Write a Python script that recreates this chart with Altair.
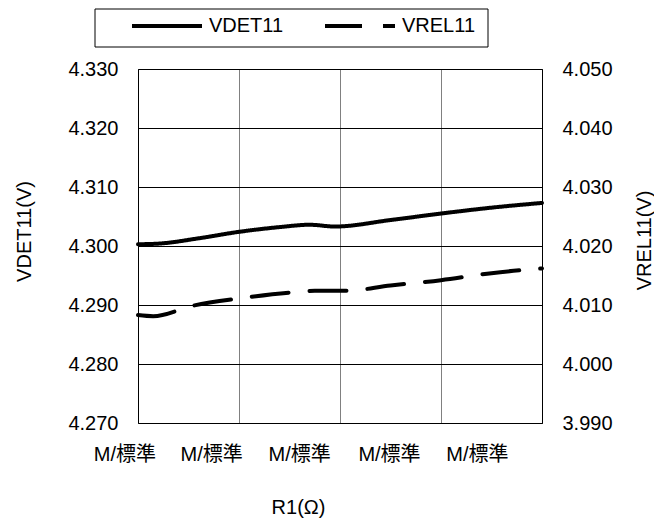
import altair as alt
import pandas as pd

# data
vdet_x = [0, 0.2, 0.6, 1.0, 1.4, 1.7, 1.95, 2.5, 3.0, 3.5, 4.0]
vdet_v = [4.3003, 4.3004, 4.3013, 4.3024, 4.3032, 4.3036, 4.3033, 4.3044, 4.3055, 4.3065, 4.3073]
vrel_x = [0, 0.15, 0.55, 1.0, 1.5, 1.75, 2.05, 2.5, 3.0, 3.5, 4.0]
vrel_v = [4.0083, 4.0081, 4.0099, 4.0111, 4.0121, 4.0124, 4.0124, 4.0133, 4.0142, 4.0154, 4.0162]
xlab_pos = [-0.13, 0.73, 1.6, 2.49, 3.36]
xlab_text = ["M/標準"] * 5
left_ticks = [4.27, 4.28, 4.29, 4.30, 4.31, 4.32, 4.33]
right_ticks = [3.99, 4.00, 4.01, 4.02, 4.03, 4.04, 4.05]
series = ["VDET11", "VREL11"]

FONT = "Liberation Sans, Noto Sans CJK JP, sans-serif"
FS = 20

df_det = pd.DataFrame({"x": vdet_x, "v": vdet_v, "s": series[0]})
df_rel = pd.DataFrame({"x": vrel_x, "v": vrel_v, "s": series[1]})
df_lab = pd.DataFrame({"x": xlab_pos, "t": xlab_text})
df_box = pd.DataFrame({"a": [0]})

xscale = alt.Scale(domain=[0, 4], nice=False, zero=False)
xaxis = alt.Axis(values=[0, 1, 2, 3, 4], labels=False, ticks=False, tickSize=0, domain=False,
                 grid=True, gridColor="#808080", gridWidth=1, gridOpacity=1,
                 title="R1(Ω)", titleX=160, titleY=84, titleBaseline="middle",
                 titleFontSize=FS, titleFontWeight="normal", titleColor="black")

dash_scale = alt.Scale(domain=series, range=[[1, 0], [37, 21]])
legend = alt.Legend(title=None, orient="none", legendX=-8, legendY=-80, direction="horizontal",
                    symbolType="stroke", symbolSize=4900, symbolStrokeWidth=4,
                    symbolStrokeColor="black", labelFontSize=FS, labelOffset=5,
                    columnPadding=33, labelColor="black", labelFont=FONT)

det = alt.Chart(df_det).mark_line(interpolate="monotone", color="black", strokeWidth=4,
                                  strokeCap="round").encode(
    x=alt.X("x:Q", scale=xscale, axis=xaxis),
    y=alt.Y("v:Q", scale=alt.Scale(domain=[4.27, 4.33], nice=False, zero=False),
            axis=alt.Axis(orient="left", values=left_ticks, format=".3f", grid=True,
                          gridColor="black", gridOpacity=1, gridWidth=1, ticks=False, tickSize=0,
                          labelPadding=20, labelFontSize=FS, labelColor="black",
                          domainColor="black", title="VDET11(V)", titleFontSize=FS,
                          titleFontWeight="normal", titleColor="black", titleX=-114, titleY=162,
                          titleAngle=-90, titleBaseline="middle")),
    strokeDash=alt.StrokeDash("s:N", scale=dash_scale, legend=legend),
)

rel = alt.Chart(df_rel).mark_line(interpolate="monotone", color="black", strokeWidth=4,
                                  strokeCap="round").encode(
    x=alt.X("x:Q", scale=xscale, axis=xaxis),
    y=alt.Y("v:Q", scale=alt.Scale(domain=[3.99, 4.05], nice=False, zero=False),
            axis=alt.Axis(orient="right", values=right_ticks, format=".3f", grid=False,
                          ticks=False, tickSize=0, labelPadding=20, labelFontSize=FS,
                          labelColor="black", domainColor="black", title="VREL11(V)",
                          titleFontSize=FS, titleFontWeight="normal", titleColor="black",
                          titleX=102, titleY=171, titleAngle=-90, titleBaseline="middle")),
    strokeDash=alt.StrokeDash("s:N", scale=dash_scale, legend=legend),
)

labels = alt.Chart(df_lab).mark_text(fontSize=FS, color="black", baseline="middle",
                                     align="center", font=FONT).encode(
    x=alt.X("x:Q", scale=xscale, axis=xaxis),
    y=alt.value(386),
    text="t:N",
)

box = alt.Chart(df_box).mark_rect(fill="white", stroke="black", strokeWidth=1).encode(
    x=alt.value(-43), x2=alt.value(350), y=alt.value(-60), y2=alt.value(-22)
)

chart = alt.layer(box, det, rel, labels).resolve_scale(y="independent").properties(
    width=404, height=354,
    autosize=alt.AutoSizeParams(type="none"),
    padding={"left": 130, "top": 61, "right": 112, "bottom": 96},
).configure(font=FONT).configure_view(stroke="black", strokeWidth=1).configure_axis(
    labelFont=FONT, titleFont=FONT
)

chart.save("out.html", embed_options={"renderer": "svg", "actions": False})
